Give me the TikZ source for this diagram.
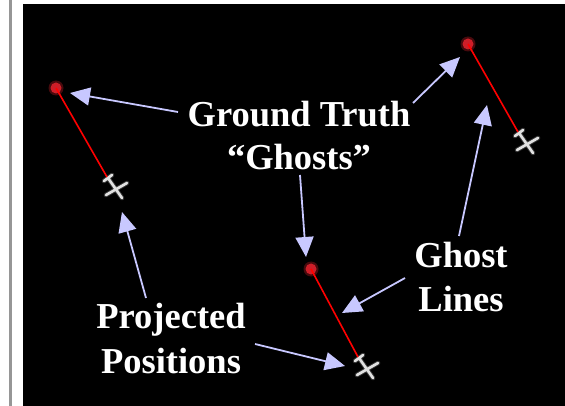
\documentclass[tikz,border=0pt]{standalone}
\usepackage{fontspec}
\setmainfont{Liberation Serif}
\usetikzlibrary{arrows.meta}
\definecolor{lav}{RGB}{200,200,255}
\definecolor{dotred}{RGB}{205,30,40}
\definecolor{crossgray}{RGB}{225,225,225}
\definecolor{rulegray}{RGB}{150,150,150}
\tikzset{
  lbl/.style={text=white, font=\fontsize{36.5}{44}\selectfont\bfseries, inner sep=0pt, anchor=base},
  pointer/.style={draw=lav, line width=1.8pt, -{Triangle[length=20pt,width=18pt]}},
  ghostdot/.style={circle, fill=dotred, minimum size=11pt, inner sep=0pt},
  ghostline/.style={draw=red, line width=1.6pt},
  crossstroke/.style={draw=crossgray, line width=2.6pt, line cap=round},
  crossglow/.style={draw=gray, line width=4.5pt, line cap=round, opacity=0.45}
}
\newcommand{\projcross}[2]{%
  \begin{scope}[shift={(#1)}]
    \foreach \st in {crossglow,crossstroke}{
      \draw[\st] (-8,-10) -- (6,10);
      \draw[\st] (-10,7) -- (11,-5);
      \draw[\st] (-12,-7) -- (-4,-13);
    }
  \end{scope}
  \coordinate (#2) at ($(#1)+(-9,-11)$);
}
\usetikzlibrary{calc}
\begin{document}
\begin{tikzpicture}[x=1pt,y=-1pt]
\useasboundingbox (0,0) rectangle (565,406);
\fill[white] (0,0) rectangle (565,406);
\fill[rulegray] (9,0) rectangle (11.5,406);
\fill[black] (23,4) rectangle (565,406);

% ghost dots
\foreach \n/\p in {d1/{56,88}, d2/{468,44}, d3/{311,269}}{
  \fill[dotred, opacity=0.35] (\p) circle (7.5pt);
}
\node[ghostdot] (d1) at (56,88) {};
\node[ghostdot] (d2) at (468,44) {};
\node[ghostdot] (d3) at (311,269) {};

% projected crosses
\coordinate (c1) at (116,188);
\coordinate (c2) at (527,143);
\coordinate (c3) at (367,368);
\projcross{c1}{e1}
\projcross{c2}{e2}
\projcross{c3}{e3}

% ghost lines
\draw[ghostline] (d1.center) -- (e1);
\draw[ghostline] (d2.center) -- (e2);
\draw[ghostline] (d3.center) -- (e3);

% labels
\node[lbl] (gt1) at (299,127) {Ground Truth};
\node[lbl] (gt2) at (299,170) {“Ghosts”};
\node[lbl] (pp1) at (171,328) {Projected};
\node[lbl] (pp2) at (171,373) {Positions};
\node[lbl] (gl1) at (461,267) {Ghost};
\node[lbl] (gl2) at (461,311) {Lines};

% arrow endpoints
\coordinate (s1) at (178,112); \coordinate (t1) at (70,93);
\coordinate (s2) at (413,103); \coordinate (t2) at (460,57);
\coordinate (s3) at (300,175); \coordinate (t3) at (306,257);
\coordinate (s4) at (146,298); \coordinate (t4) at (122,212);
\coordinate (s5) at (255,344); \coordinate (t5) at (345,366);
\coordinate (s6) at (405,278); \coordinate (t6) at (342,313);
\coordinate (s7) at (459,236); \coordinate (t7) at (487,105);
\foreach \i in {1,...,7}{
  \draw[pointer] (s\i) -- (t\i);
}
\end{tikzpicture}
\end{document}
